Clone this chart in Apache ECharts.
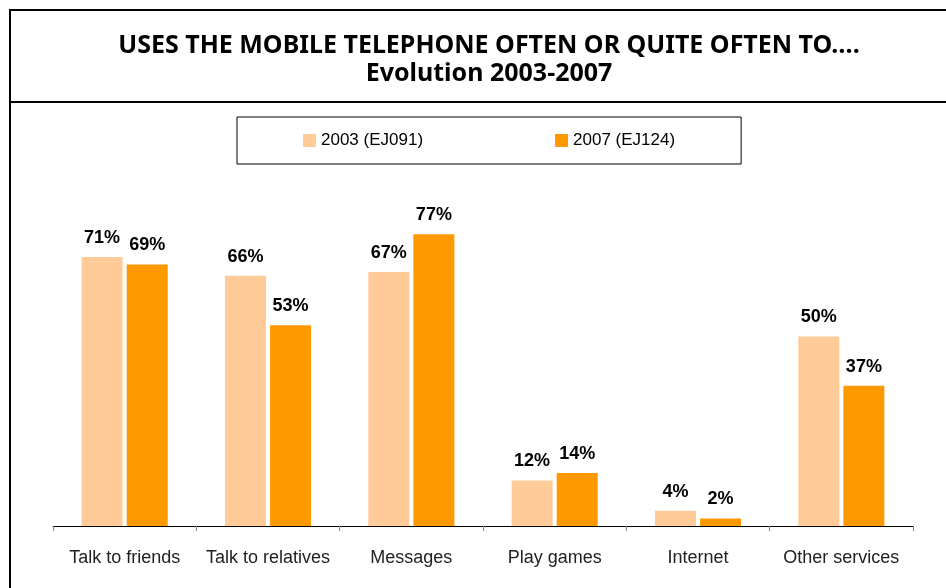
<!DOCTYPE html>
<html>
<head>
<meta charset="utf-8">
<script src="https://cdn.jsdelivr.net/npm/echarts@6/dist/echarts.min.js"></script>
<style>
  html, body { margin: 0; padding: 0; background: #fff; }
  #chart { width: 946px; height: 588px; }
</style>
</head>
<body>
<div id="chart"></div>
<script>
// Activities and shares (%) of respondents using the mobile phone often or quite often
const categories = ['Talk to friends', 'Talk to relatives', 'Messages', 'Play games', 'Internet', 'Other services'];
const seriesNames = ['2003 (EJ091)', '2007 (EJ124)'];
const values2003 = [71, 66, 67, 12, 4, 50];
const values2007 = [69, 53, 77, 14, 2, 37];

const titleLine1 = 'USES THE MOBILE TELEPHONE OFTEN OR QUITE OFTEN TO….';
const titleLine2 = 'Evolution 2003-2007';

const chart = echarts.init(document.getElementById('chart'), null, { renderer: 'canvas' });

const labelStyle = {
  show: true,
  position: 'top',
  distance: 10,
  formatter: '{c}%',
  fontFamily: '"Liberation Sans", Arial, sans-serif',
  fontWeight: 'bold',
  fontSize: 18,
  color: '#000'
};

chart.setOption({
  animation: false,
  backgroundColor: '#fff',
  title: {
    text: titleLine1 + '\n' + titleLine2,
    left: 484,
    top: 27,
    textAlign: 'center',
    textStyle: {
      fontFamily: '"Noto Sans", "DejaVu Sans", sans-serif',
      fontWeight: 'bold',
      fontSize: 25,
      lineHeight: 28,
      color: '#000'
    }
  },
  graphic: [
    { type: 'line', shape: { x1: 9, y1: 10, x2: 946, y2: 10 }, style: { stroke: '#000', lineWidth: 2 } },
    { type: 'line', shape: { x1: 9, y1: 102, x2: 946, y2: 102 }, style: { stroke: '#000', lineWidth: 2 } },
    { type: 'line', shape: { x1: 10, y1: 9, x2: 10, y2: 588 }, style: { stroke: '#000', lineWidth: 2 } }
  ],
  legend: {
    data: seriesNames,
    left: 237,
    top: 117,
    orient: 'horizontal',
    borderColor: '#000',
    borderWidth: 1,
    borderRadius: 0,
    padding: [15, 66, 15, 66],
    itemGap: 132,
    itemWidth: 13,
    itemHeight: 13,
    icon: 'rect',
    textStyle: {
      fontFamily: '"Liberation Sans", Arial, sans-serif',
      fontSize: 17,
      color: '#000'
    }
  },
  grid: { left: 53, right: 33, top: 147, bottom: 62 },
  xAxis: {
    type: 'category',
    data: categories,
    axisLine: { lineStyle: { color: '#000', width: 1 } },
    axisTick: { show: true, interval: 0, length: 5, lineStyle: { color: '#808080' } },
    axisLabel: {
      interval: 0,
      margin: 23,
      fontFamily: '"Liberation Sans", Arial, sans-serif',
      fontSize: 18,
      color: '#222'
    }
  },
  yAxis: {
    type: 'value',
    min: 0,
    max: 100,
    show: false,
    splitLine: { show: false }
  },
  series: [
    {
      name: seriesNames[0],
      type: 'bar',
      data: values2003,
      barWidth: 41,
      barGap: '10%',
      itemStyle: { color: '#FFCC99' },
      label: labelStyle
    },
    {
      name: seriesNames[1],
      type: 'bar',
      data: values2007,
      barWidth: 41,
      barGap: '10%',
      itemStyle: { color: '#FF9900' },
      label: labelStyle
    }
  ]
});
</script>
</body>
</html>
